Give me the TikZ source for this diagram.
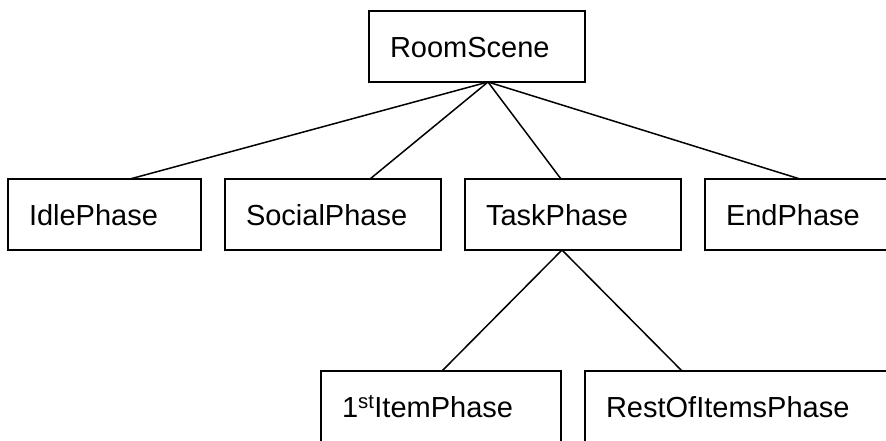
\documentclass[tikz,border=0pt]{standalone}
\usepackage{fontspec}
\setmainfont{Liberation Sans}
\begin{document}
\begin{tikzpicture}[x=1pt, y=-1pt, every node/.style={draw, rectangle, line width=2pt, outer sep=0pt, anchor=north west, minimum height=71pt, inner xsep=21pt, inner ysep=0pt, text height=22pt, text depth=0pt, align=left, font=\fontsize{29}{35}\selectfont}, link/.style={draw, line width=1.5pt}]

\useasboundingbox (0,0) rectangle (886,441);
\clip (0,0) rectangle (886,441);

% Nodes
\node[text width=174pt] (room) at (369,11) {RoomScene};
\node[text width=151pt] (idle) at (8,179) {IdlePhase};
\node[text width=174pt] (social) at (225,179) {SocialPhase};
\node[text width=174pt] (task) at (465,179) {TaskPhase};
\node[text width=174pt] (endph) at (705,179) {EndPhase};
\node[text width=198pt] (first) at (321,371) {1\textsuperscript{st}ItemPhase};
\node[text width=298pt] (rest) at (585,371) {RestOfItemsPhase};

% Lines
\draw[link] ([xshift=11pt]room.south) -- ([xshift=25.5pt]idle.north);
\draw[link] ([xshift=11pt]room.south) -- ([xshift=37pt]social.north);
\draw[link] ([xshift=11pt]room.south) -- ([xshift=-12pt]task.north);
\draw[link] ([xshift=11pt]room.south) -- ([xshift=-13pt]endph.north);
\draw[link] ([xshift=-11pt]task.south) -- ([xshift=1pt]first.north);
\draw[link] ([xshift=-11pt]task.south) -- ([xshift=-73pt]rest.north);

\end{tikzpicture}
\end{document}
